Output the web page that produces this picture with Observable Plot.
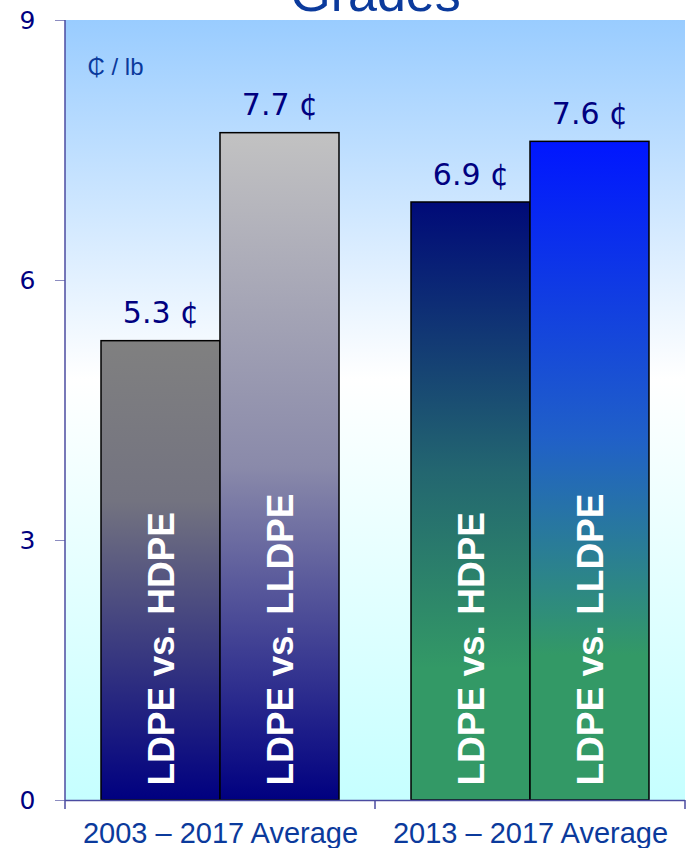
<!DOCTYPE html>
<html>
<head>
<meta charset="utf-8">
<script src="https://cdn.jsdelivr.net/npm/d3@7"></script>
<script src="https://cdn.jsdelivr.net/npm/@observablehq/plot@0.6"></script>
<style>
  html, body { margin: 0; padding: 0; background: #ffffff; }
  #chart { position: relative; width: 689px; height: 848px; overflow: hidden; }
</style>
</head>
<body>
<div id="chart"></div>
<script>
// Price spread between polyethylene grades, cents per pound
const periods = ["2003 – 2017 Average", "2013 – 2017 Average"];
const spreads = ["LDPE vs. HDPE", "LDPE vs. LLDPE"];
const values2003to2017 = [5.3, 7.7];
const values2013to2017 = [6.9, 7.6];
const yTicks = [0, 3, 6, 9];
const unitLabel = "₵ / lb";
const title = "Grades";

const periodValues = [values2003to2017, values2013to2017];
const rows = [];
periods.forEach((period, p) => {
  spreads.forEach((spread, s) => {
    rows.push({period, spread, value: periodValues[p][s], fill: `url(#bar-${p}-${s})`});
  });
});

const navy = "#000080";
const titleBlue = "#0b3a9c";

const chart = Plot.plot({
  width: 689,
  height: 848,
  marginTop: 20,
  marginBottom: 48,
  marginLeft: 64,
  marginRight: 4,
  style: {color: "#8c8cc0", background: "transparent"},
  fx: {domain: periods, padding: 0},
  x: {domain: spreads, paddingInner: 0, paddingOuter: 0.294, axis: null},
  y: {domain: [0, 9]},
  color: {type: "identity"},
  marks: [
    Plot.axisY({
      ticks: yTicks, tickSize: 10, tickPadding: 20, label: null,
      fontSize: 25, fontFamily: "DejaVu Sans", fill: navy
    }),
    Plot.axisFx({
      anchor: "bottom", tickSize: 0, tickPadding: 22, label: null,
      fontSize: 29, fontFamily: "Liberation Sans", fill: titleBlue
    }),
    Plot.barY(rows, {
      fx: "period", x: "spread", y: "value", fill: "fill",
      stroke: "#000000", strokeWidth: 1.5, inset: 0
    }),
    Plot.text(rows, {
      fx: "period", x: "spread", y: "value",
      text: d => `${d.value} ¢`,
      lineAnchor: "bottom", dy: -18,
      fontSize: 30, fontFamily: "DejaVu Sans", fill: navy
    }),
    Plot.text(rows, {
      fx: "period", x: "spread", y: () => 0,
      text: "spread", rotate: -90, textAnchor: "start", lineAnchor: "middle",
      dy: -15, dx: 1,
      fontSize: 37, fontWeight: "bold", fontFamily: "Liberation Sans", fill: "#ffffff"
    }),
    Plot.ruleY([0], {stroke: "#4b4ba0", strokeWidth: 1.5}),
    Plot.text([periods[0]], {
      fx: d => d, frameAnchor: "top-left", text: () => unitLabel,
      textAnchor: "start", lineAnchor: "top", dx: 22, dy: 37,
      fontSize: 24, fontFamily: "Liberation Sans", fill: titleBlue
    }),
    Plot.text([periods[0]], {
      fx: d => d, frameAnchor: "top-right", text: () => title,
      textAnchor: "middle", lineAnchor: "bottom", dy: -10,
      fontSize: 52, fontFamily: "Liberation Sans", fill: titleBlue
    })
  ]
});

// Gradient definitions for the plot background and each bar
const svg = d3.select(chart);
const defs = svg.insert("defs", ":first-child");
function vertical(id, stops) {
  const g = defs.append("linearGradient").attr("id", id)
    .attr("x1", 0).attr("y1", 0).attr("x2", 0).attr("y2", 1);
  stops.forEach(([offset, color]) => g.append("stop").attr("offset", offset).attr("stop-color", color));
}
vertical("plot-bg", [[0, "#99ccff"], [0.46, "#ffffff"], [1, "#c6ffff"]]);
vertical("bar-0-0", [[0, "#808080"], [0.35, "#737380"], [1, "#000080"]]);
vertical("bar-0-1", [[0, "#c2c2c2"], [0.5, "#8a8aaa"], [1, "#000080"]]);
vertical("bar-1-0", [[0, "#000a78"], [0.45, "#236670"], [0.78, "#339966"], [1, "#339966"]]);
vertical("bar-1-1", [[0, "#0016ff"], [0.45, "#2060c8"], [0.78, "#339966"], [1, "#339966"]]);

// One continuous background panel behind both periods
const fx = chart.scale("fx");
const y = chart.scale("y");
const left = fx.apply(periods[0]);
const right = fx.apply(periods[periods.length - 1]) + fx.bandwidth;
const y0 = y.apply(0), y9 = y.apply(9);
svg.insert("rect", "defs + *")
  .attr("x", left).attr("y", y9)
  .attr("width", right - left).attr("height", y0 - y9)
  .attr("fill", "url(#plot-bg)");

// Left axis line and the short ticks marking each period boundary
const boundaries = [left, ...periods.map(p => fx.apply(p) + fx.bandwidth)];
const axes = svg.append("g").attr("stroke", "#4b4ba0").attr("stroke-width", 1.5);
axes.append("line").attr("x1", left).attr("x2", left).attr("y1", y9).attr("y2", y0);
boundaries.forEach(bx => {
  axes.append("line").attr("x1", bx).attr("x2", bx).attr("y1", y0).attr("y2", y0 + 9);
});

document.getElementById("chart").appendChild(chart);
</script>
</body>
</html>
